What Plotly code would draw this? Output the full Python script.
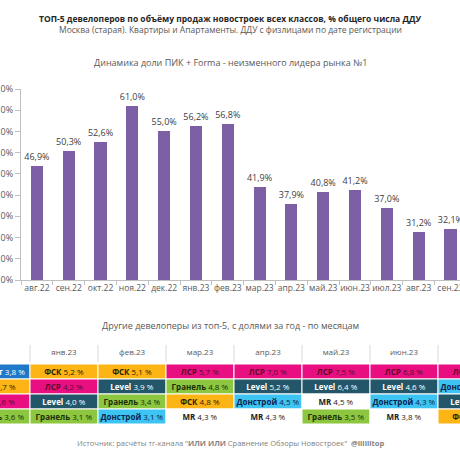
import plotly.graph_objects as go

# ---- Top chart data ----
months = ["авг.22", "сен.22", "окт.22", "ноя.22", "дек.22", "янв.23", "фев.23",
          "мар.23", "апр.23", "май.23", "июн.23", "июл.23", "авг.23", "сен.23"]
pik_share = [46.9, 50.3, 52.6, 61.0, 55.0, 56.2, 56.8,
             41.9, 37.9, 40.8, 41.2, 37.0, 31.2, 32.1]
y_ticks = [20, 25, 30, 35, 40, 45, 50, 55, 60, 65]
y_tick_labels = ["20,0%", "25,0%", "30,0%", "35,0%", "40,0%",
                 "45,0%", "50,0%", "55,0%", "60,0%", "65,0%"]

# ---- Table data (other top-5 developers, by month) ----
table_months = ["дек.22", "янв.23", "фев.23", "мар.23", "апр.23", "май.23", "июн.23", "июл.23"]
top_devs = [
    ["Самолет", "ФСК", "ЛСР", "Гранель"],
    ["ФСК", "ЛСР", "Level", "Гранель"],
    ["ФСК", "Level", "Гранель", "Донстрой"],
    ["ЛСР", "Гранель", "ФСК", "MR"],
    ["ЛСР", "Level", "Донстрой", "MR"],
    ["ЛСР", "Level", "MR", "Гранель"],
    ["ЛСР", "Level", "Донстрой", "MR"],
    ["ЛСР", "Донстрой", "Level", "ФСК"],
]
top_shares = [
    [3.8, 3.7, 3.6, 3.6],
    [5.2, 4.2, 4.0, 3.1],
    [5.1, 3.9, 3.4, 3.1],
    [5.7, 4.8, 4.8, 4.3],
    [7.0, 5.2, 4.5, 4.3],
    [7.5, 6.4, 4.5, 3.5],
    [6.8, 4.6, 4.3, 3.8],
    [6.1, 4.6, 4.2, 3.9],
]

# styles per developer: (fill, text colour)
dev_style = {
    "ФСК": ("#fcb514", "#2b2200"),
    "ЛСР": ("#ea0f80", "#5a0a30"),
    "Level": ("#24566a", "#ffffff"),
    "Гранель": ("#8dc63f", "#1c2e08"),
    "Донстрой": ("#3ec4f2", "#0b2550"),
    "MR": ("#ffffff", "#222222"),
    "Самолет": ("#1f78c8", "#ffffff"),
}

fig = go.Figure()

fig.add_trace(go.Bar(
    x=months, y=pik_share,
    marker=dict(color="#7d5fa6"),
    width=0.38,
    texttemplate="%{y:.1f}%",
    textposition="outside",
    constraintext="none",
    textfont=dict(size=9, color="#404040", family="Open Sans"),
    cliponaxis=False,
    hoverinfo="skip",
    xaxis="x", yaxis="y",
))

tx, tbase, tcol, ttext, tfont = [], [], [], [], []
for m, devs, vals in zip(table_months, top_devs, top_shares):
    for r, (d, v) in enumerate(zip(devs, vals)):
        tx.append(m)
        tbase.append(r)
        tcol.append(dev_style[d][0])
        tfont.append(dev_style[d][1])
        ttext.append("<b>%s</b> %s %%" % (d, ("%.1f" % v).replace(".", ",")))

fig.add_trace(go.Bar(
    x=tx, y=[1] * len(tx), base=tbase,
    width=1,
    marker=dict(color=tcol, line=dict(color="#ffffff", width=1)),
    text=ttext, textposition="inside", insidetextanchor="middle",
    textangle=0, constraintext="none",
    textfont=dict(size=8, color=tfont, family="Open Sans"),
    hoverinfo="skip",
    xaxis="x2", yaxis="y2",
))

H = 460.0
fig.update_layout(
    template="none",
    width=460, height=460,
    margin=dict(l=0, r=0, t=0, b=0, pad=0),
    paper_bgcolor="white", plot_bgcolor="white",
    showlegend=False,
    separators=", ",
    font=dict(family="Open Sans", color="#404040"),
    xaxis=dict(
        domain=[21 / H, 1], range=[-0.5, 13.3], type="category",
        showline=True, linecolor="#bfbfbf", linewidth=1,
        ticks="outside", tickson="boundaries", ticklen=4, tickcolor="#bfbfbf",
        showgrid=False, automargin=False, tickangle=0,
        tickfont=dict(size=8.5, color="#595959"),
        anchor="y",
    ),
    yaxis=dict(
        domain=[1 - 280 / H, 1 - 89 / H], range=[20, 65],
        tickvals=y_ticks, ticktext=y_tick_labels,
        showline=True, linecolor="#bfbfbf", linewidth=1,
        ticks="outside", ticklen=5, tickcolor="#bfbfbf",
        showgrid=False, zeroline=False, automargin=False,
        tickfont=dict(size=9, color="#595959"),
        anchor="x",
    ),
    xaxis2=dict(
        domain=[0, 1], range=[38 / 68 - 0.5, 38 / 68 - 0.5 + 460 / 68],
        type="category", side="top", anchor="y2",
        showline=False, showgrid=False, ticks="", automargin=False,
        tickfont=dict(size=8, color="#595959"),
        ticklabelstandoff=6,
    ),
    yaxis2=dict(
        domain=[1 - 424 / H, 1 - 364 / H], range=[4, 0],
        showticklabels=False, showgrid=False, zeroline=False, showline=False,
        automargin=False, anchor="x2",
    ),
    bargap=0,
)

# header separators between month columns
for k in range(len(table_months) - 1):
    fig.add_shape(type="line", xref="x2", yref="paper",
                  x0=k + 0.5, x1=k + 0.5, y0=1 - 362 / H, y1=1 - 345 / H,
                  line=dict(color="#d9d9d9", width=1))

def note(text, y, size, color, bold=False):
    fig.add_annotation(text=("<b>%s</b>" % text) if bold else text,
                       xref="paper", yref="paper", x=0.5, y=1 - y / H,
                       xanchor="center", yanchor="middle", showarrow=False,
                       font=dict(size=size, color=color, family="Open Sans"))

note("ТОП-5 девелоперов по объёму продаж новостроек всех классов, % общего числа ДДУ", 19, 8.5, "#262626", True)
note("Москва (старая). Квартиры и Апартаменты. ДДУ с физлицами по дате регистрации", 29.5, 8.5, "#595959")
note("Динамика доли ПИК + Forma - неизменного лидера рынка №1", 62, 9, "#595959")
note("Другие девелоперы из топ-5, с долями за год - по месяцам", 325, 9, "#595959")
note("Источник: расчёты тг-канала \"<b>ИЛИ ИЛИ</b> Сравнение Обзоры Новостроек\"  <b>@iliilitop</b>", 443, 7.5, "#7f7f7f")

fig.write_html("out.html",
               config={"displayModeBar": False, "staticPlot": True},
               post_script="document.body.style.margin='0';document.body.style.overflow='hidden';")
